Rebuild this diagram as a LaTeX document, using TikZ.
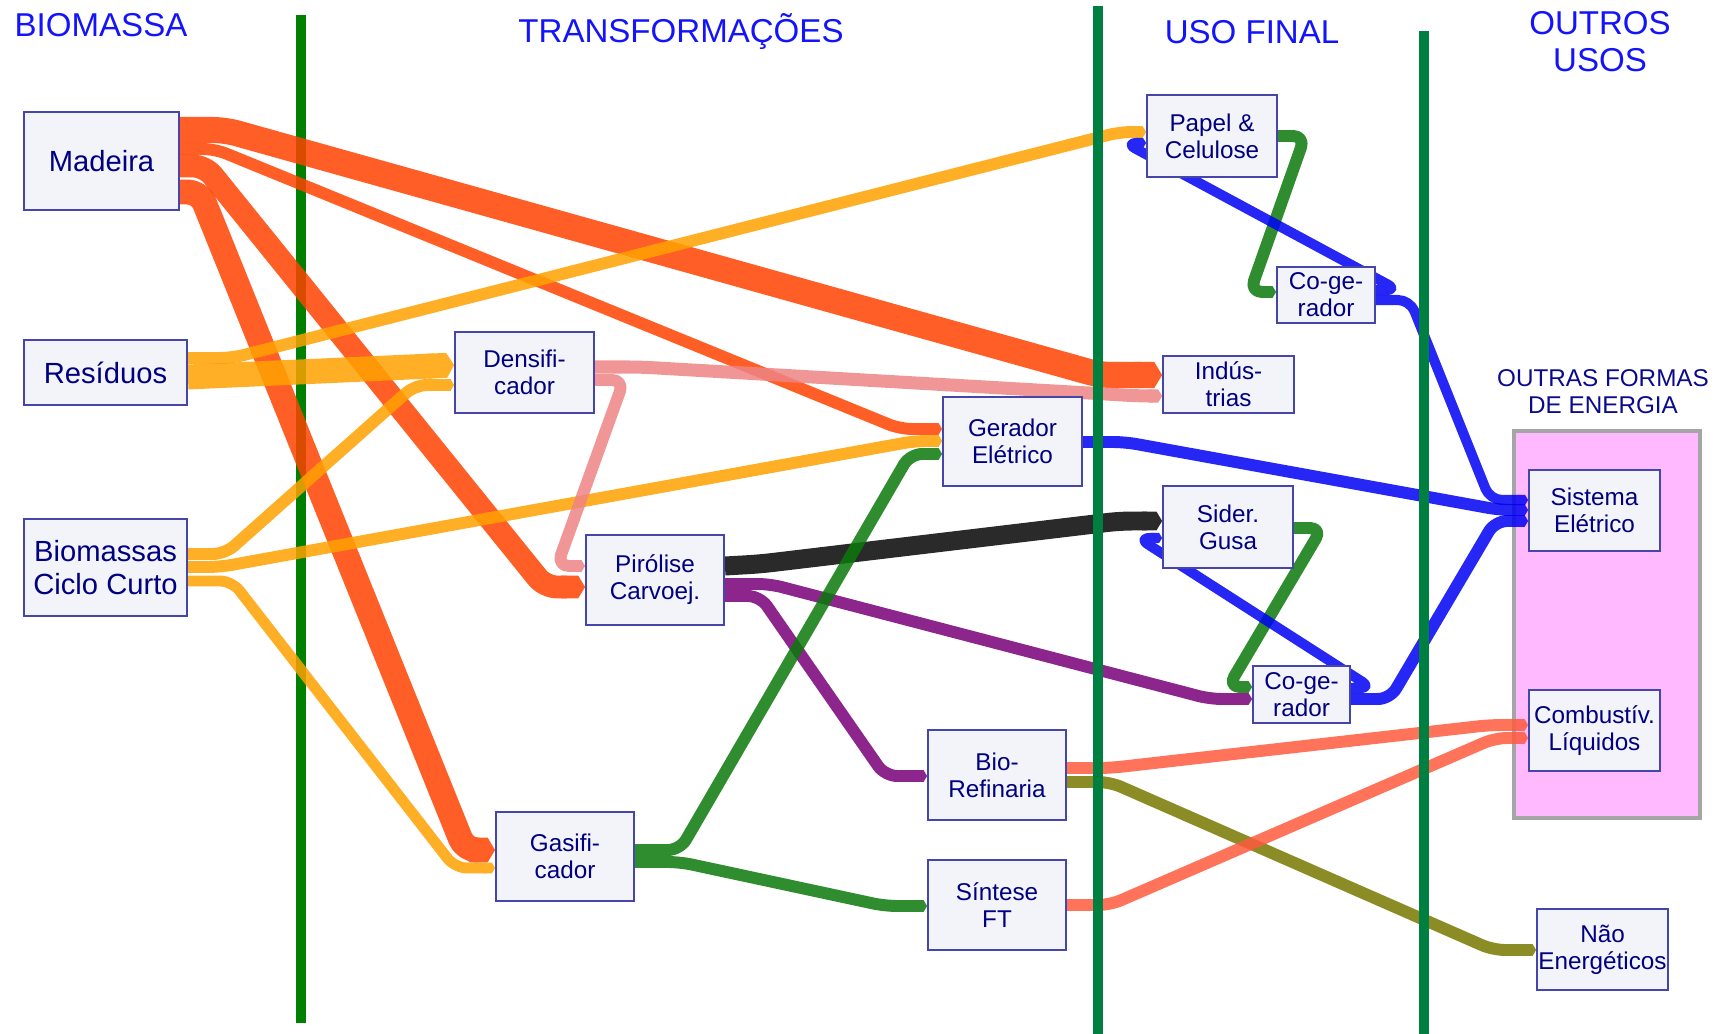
\documentclass[tikz,border=0pt]{standalone}
\usepackage{fontspec}
\setmainfont{Liberation Sans}
\usetikzlibrary{arrows.meta}
\definecolor{navy}{RGB}{0,0,128}
\definecolor{headblue}{RGB}{20,20,250}
\definecolor{boxline}{RGB}{70,70,170}
\definecolor{boxfill}{RGB}{243,243,250}
\definecolor{madcol}{RGB}{255,67,0}
\definecolor{rescol}{RGB}{255,161,0}
\definecolor{denscol}{RGB}{238,132,132}
\definecolor{carvcol}{RGB}{5,5,5}
\definecolor{purpcol}{RGB}{120,0,120}
\definecolor{gascol}{RGB}{10,120,10}
\definecolor{elcol}{RGB}{0,0,243}
\definecolor{fuelcol}{RGB}{255,90,61}
\definecolor{olivecol}{RGB}{120,120,0}
\definecolor{lineA}{RGB}{0,128,0}
\definecolor{lineB}{RGB}{0,128,64}
\definecolor{panelfill}{RGB}{255,185,255}
\definecolor{panelline}{RGB}{165,165,165}
\pgfdeclarelayer{back}
\pgfdeclarelayer{flows}
\pgfsetlayers{back,flows,main}
% one see-through band, its tip included
\newcommand{\flowdraw}[2]{\begin{scope}[transparency group,opacity=0.85]\draw[flow=#1] #2;\end{scope}}
\begin{document}
\begin{tikzpicture}[x=0.01cm,y=-0.01cm,
    box/.style={draw=boxline,fill=boxfill,text=navy,align=center,inner sep=0pt,line width=0.5pt,font=\fontsize{6.9}{7.7}\selectfont},
    bigbox/.style={box,font=\fontsize{8.3}{9.4}\selectfont},
    head/.style={text=headblue,align=center,font=\fontsize{9.4}{10.5}\selectfont},
    flow/.style={draw=#1,line join=round,rounded corners=0.12cm,-{Triangle Cap[length=+0pt .3]}},
    divider/.style={line width=0.1cm}]
    \useasboundingbox (0,0) rectangle (1722,1034);

    % headers
    \node[head] (hbio) at (101,25) {BIOMASSA};
    \node[head] (htra) at (681,32) {TRANSFORMAÇÕES};
    \node[head] (huso) at (1252,32) {USO FINAL};
    \node[head] (hout) at (1600,42) {OUTROS\\USOS};
    \node[text={rgb,255:red,10;green,10;blue,140},align=center,font=\fontsize{6.9}{7.7}\selectfont] (hfor) at (1603,392) {OUTRAS FORMAS\\DE ENERGIA};

    % biomassa
    \node[bigbox,minimum width=1.55cm,minimum height=0.98cm] (mad) at (101.5,161) {Madeira};
    \node[bigbox,minimum width=1.63cm,minimum height=0.65cm] (res) at (105.5,372.5) {Resíduos};
    \node[bigbox,minimum width=1.63cm,minimum height=0.97cm] (bcc) at (105.5,567.5) {Biomassas\\Ciclo Curto};

    % transformacoes
    \node[box,minimum width=1.39cm,minimum height=0.81cm] (dens) at (524.5,372.5) {Densifi-\\cador};
    \node[box,minimum width=1.38cm,minimum height=0.90cm] (pir) at (655,580) {Pirólise\\Carvoej.};
    \node[box,minimum width=1.38cm,minimum height=0.89cm] (gas) at (565,856.5) {Gasifi-\\cador};
    \node[box,minimum width=1.39cm,minimum height=0.89cm] (ger) at (1012.5,441.5) {Gerador\\Elétrico};
    \node[box,minimum width=1.38cm,minimum height=0.90cm] (bio) at (997,775) {Bio-\\Refinaria};
    \node[box,minimum width=1.38cm,minimum height=0.90cm] (sin) at (997,905) {Síntese\\FT};

    % uso final
    \node[box,minimum width=1.30cm,minimum height=0.82cm] (pap) at (1212,136) {Papel \&\\Celulose};
    \node[box,minimum width=0.98cm,minimum height=0.56cm] (cog1) at (1326,295) {Co-ge-\\rador};
    \node[box,minimum width=1.31cm,minimum height=0.57cm] (ind) at (1228.5,384.5) {Indús-\\trias};
    \node[box,minimum width=1.30cm,minimum height=0.82cm] (sid) at (1228,527) {Sider.\\Gusa};
    \node[box,minimum width=0.97cm,minimum height=0.57cm] (cog2) at (1301.5,694.5) {Co-ge-\\rador};

    % outros usos
    \begin{pgfonlayer}{back}
        \node[draw=panelline,line width=1.1pt,fill=panelfill,minimum width=1.86cm,minimum height=3.87cm,inner sep=0pt] (pan) at (1607,624.5) {};
        \draw[divider,lineA] (301,15) -- (301,1023);
    \end{pgfonlayer}
    \node[box,minimum width=1.31cm,minimum height=0.81cm] (sis) at (1594.5,510.5) {Sistema\\Elétrico};
    \node[box,minimum width=1.31cm,minimum height=0.81cm] (com) at (1594.5,730.5) {Combustív.\\Líquidos};
    \node[box,minimum width=1.31cm,minimum height=0.81cm] (nao) at (1602.5,949.5) {Não\\Energéticos};

    \draw[divider,lineB] (1098,6) -- (1098,1034);
    \draw[divider,lineB] (1424,31) -- (1424,1034);

    \begin{pgfonlayer}{flows}
        % madeira
        \flowdraw{madcol,line width=7.4pt}{(mad.east |- 0,130) -- (225,130) -- (1100,375) -- (ind.west |- 0,375)}
        \flowdraw{madcol,line width=3.4pt}{(mad.east |- 0,149) -- (215,149) -- (900,429) -- (ger.west |- 0,429)}
        \flowdraw{madcol,line width=6.5pt}{(mad.east |- 0,166) -- (205,166) -- (545,587) -- (pir.west |- 0,587)}
        \flowdraw{madcol,line width=7.1pt}{(mad.east |- 0,192) -- (200,192) -- (465,850) -- (gas.west |- 0,850)}
        % residuos e ciclo curto
        \flowdraw{rescol,line width=3.4pt}{(res.east |- 0,358) -- (232,358) -- (1120,132) -- (pap.west |- 0,132)}
        \flowdraw{rescol,line width=7.1pt}{(res.east |- 0,377) -- (dens.west |- 0,365)}
        \flowdraw{rescol,line width=3.4pt}{(bcc.east |- 0,554) -- (225,554) -- (415,385) -- (dens.west |- 0,385)}
        \flowdraw{rescol,line width=3.4pt}{(bcc.east |- 0,567) -- (220,567) -- (915,441) -- (ger.west |- 0,441)}
        \flowdraw{rescol,line width=3.1pt}{(bcc.east |- 0,581) -- (232,581) -- (455,868) -- (gas.west |- 0,868)}
        % densificador
        \flowdraw{denscol,line width=3.7pt}{(dens.east |- 0,367) -- (640,367) -- (1140,396) -- (ind.west |- 0,396)}
        \flowdraw{denscol,line width=3.4pt}{(dens.east |- 0,380) -- (624,380) -- (557,566) -- (pir.west |- 0,566)}
        % pirolise
        \flowdraw{carvcol,line width=5.4pt}{(pir.east |- 0,566) -- (760,564) -- (1120,521) -- (sid.west |- 0,521)}
        \flowdraw{purpcol,line width=3.4pt}{(pir.east |- 0,584) -- (770,584) -- (1210,699) -- (cog2.west |- 0,699)}
        \flowdraw{purpcol,line width=3.4pt}{(pir.east |- 0,596) -- (760,596) -- (885,776) -- (bio.west |- 0,776)}
        % gasificador
        \flowdraw{gascol,line width=3.4pt}{(gas.east |- 0,850) -- (680,850) -- (910,454) -- (ger.west |- 0,454)}
        \flowdraw{gascol,line width=3.4pt}{(gas.east |- 0,862) -- (680,862) -- (885,906) -- (sin.west |- 0,906)}
        % gerador
        \flowdraw{elcol,line width=3.4pt}{(ger.east |- 0,442) -- (1125,442) -- (1500,510) -- (sis.west |- 0,510)}
        % papel e co-gerador
        \flowdraw{gascol,line width=3.4pt}{(pap.east |- 0,136) -- (1305,136) -- (1250,292) -- (cog1.west |- 0,292)}
        \flowdraw{elcol,line width=2.85pt}{(cog1.east |- 0,290) -- (1398,290) -- (1125,143) -- (pap.west |- 0,143)}
        \flowdraw{elcol,line width=2.85pt}{(cog1.east |- 0,300) -- (1410,300) -- (1490,500) -- (sis.west |- 0,500)}
        % siderurgia e co-gerador
        \flowdraw{gascol,line width=3.4pt}{(sid.east |- 0,528) -- (1322,528) -- (1228,687) -- (cog2.west |- 0,687)}
        \flowdraw{elcol,line width=2.85pt}{(cog2.east |- 0,688) -- (1372,688) -- (1138,538) -- (sid.west |- 0,538)}
        \flowdraw{elcol,line width=3.4pt}{(cog2.east |- 0,699) -- (1390,699) -- (1495,521) -- (sis.west |- 0,521)}
        % biorefinaria e sintese
        \flowdraw{fuelcol,line width=3.4pt}{(bio.east |- 0,768) -- (1110,768) -- (1490,725) -- (com.west |- 0,725)}
        \flowdraw{olivecol,line width=3.4pt}{(bio.east |- 0,782) -- (1110,782) -- (1493,950) -- (nao.west |- 0,950)}
        \flowdraw{fuelcol,line width=3.4pt}{(sin.east |- 0,905) -- (1110,905) -- (1495,738) -- (com.west |- 0,738)}
    \end{pgfonlayer}
\end{tikzpicture}
\end{document}
